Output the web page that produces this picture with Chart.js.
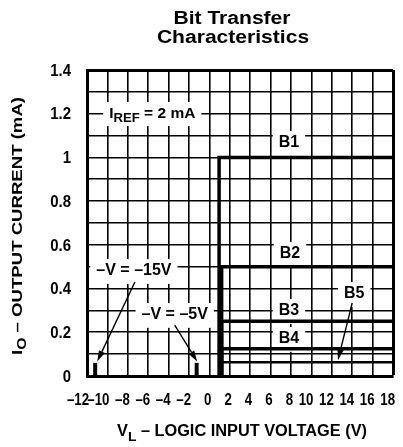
<!DOCTYPE html>
<html>
<head>
<meta charset="utf-8">
<script src="https://cdn.jsdelivr.net/npm/chart.js@4.4.1/dist/chart.umd.min.js"></script>
<style>
html, body { margin: 0; padding: 0; background: #fff; }
#wrap { width: 403px; height: 447px; }
</style>
</head>
<body>
<div id="wrap"><canvas id="chart" width="403" height="447"></canvas></div>
<script>
// values (I_REF = 2 mA)
const bitNames    = ['B1', 'B2', 'B3', 'B4', 'B5'];
const bitCurrents = [1.0, 0.5, 0.25, 0.125, 0.0625];   // mA
const bitSwitchOn = [0.95, 1.2, 1.2, 1.2, 1.2];         // V_L where the bit turns on
const bitEnd      = [18, 18, 18, 18, 18];

const supplyNames      = ['–V = –15V', '–V = –5V'];
const supplyThresholds = [-11.2, -1.25];                // V_L
const supplyMarkTop    = [0.06, 0.06];                  // mA

const X_MIN = -12, X_MAX = 18, X_STEP = 2;
const Y_MIN = 0, Y_MAX = 1.4, Y_STEP = 0.1;

const FONT = '"Liberation Sans", Arial, Helvetica, sans-serif';

// where the callouts sit (data units)
const notes = {
    iref: { x: -5.6, y: 1.2 },
    B1: { x: 7.8, y: 1.066 },
    B2: { x: 7.9, y: 0.558 },
    B3: { x: 7.8, y: 0.297 },
    B4: { x: 7.8, y: 0.169 },
    B5: { x: 14.2, y: 0.375 },
    v15: { x: -7.4, y: 0.48 },
    v5: { x: -3.4, y: 0.279 }
};
const arrows = [
    { from: { x: -7.3, y: 0.43 }, to: { x: -11.0, y: 0.066 } },
    { from: { x: -3.4, y: 0.233 }, to: { x: -1.2, y: 0.066 } },
    { from: { x: 14.0, y: 0.334 }, to: { x: 12.6, y: 0.072 } }
];

const datasets = [];
bitNames.forEach((name, i) => {
    datasets.push({
        label: name,
        data: [
            { x: bitSwitchOn[i], y: 0 },
            { x: bitSwitchOn[i], y: bitCurrents[i] },
            { x: bitEnd[i], y: bitCurrents[i] }
        ],
        showLine: true,
        borderColor: '#000',
        borderWidth: i === 4 ? 2.5 : 3.5,
        pointRadius: 0,
        tension: 0
    });
});
supplyNames.forEach((name, i) => {
    datasets.push({
        label: name,
        data: [
            { x: supplyThresholds[i], y: 0 },
            { x: supplyThresholds[i], y: supplyMarkTop[i] }
        ],
        showLine: true,
        borderColor: '#000',
        borderWidth: 4,
        borderCapStyle: 'butt',
        pointRadius: 0
    });
});

function fmtNum(v) {
    const r = Math.round(v * 10) / 10;
    return r < 0 ? '–' + (-r) : String(r);
}

function setFont(ctx, size) {
    ctx.font = 'bold ' + size + 'px ' + FONT;
}

// width of text made of pieces (some subscripted)
function richWidth(ctx, parts, size) {
    let w = 0;
    parts.forEach(p => {
        setFont(ctx, p.sub ? size * 0.85 : size);
        w += ctx.measureText(p.t).width;
    });
    return w;
}

// draws rich text centred at (x, y); sx squeezes/stretches it horizontally
function drawRich(ctx, parts, x, y, size, sx) {
    const w = richWidth(ctx, parts, size) * sx;
    ctx.save();
    ctx.translate(x - w / 2, y);
    ctx.scale(sx, 1);
    ctx.textAlign = 'left';
    ctx.textBaseline = 'middle';
    let cx = 0;
    parts.forEach(p => {
        setFont(ctx, p.sub ? size * 0.85 : size);
        ctx.fillText(p.t, cx, p.sub ? size * 0.3 : 0);
        cx += ctx.measureText(p.t).width;
    });
    ctx.restore();
}

function textBox(ctx, parts, px, py, size) {
    const w = richWidth(ctx, parts, size);
    ctx.fillStyle = '#fff';
    ctx.fillRect(px - w / 2 - 6, py - size * 0.75, w + 12, size * 1.55);
    ctx.fillStyle = '#000';
    drawRich(ctx, parts, px, py, size, 1);
}

const notesPlugin = {
    id: 'notes',
    beforeDatasetsDraw(chart) {
        const ctx = chart.ctx, xs = chart.scales.x, ys = chart.scales.y;
        const at = n => [xs.getPixelForValue(n.x), ys.getPixelForValue(n.y)];
        ctx.save();
        let p = at(notes.iref);
        textBox(ctx, [{ t: 'I' }, { t: 'REF', sub: true }, { t: ' = 2 mA' }], p[0], p[1], 15.5);
        bitNames.forEach(name => {
            p = at(notes[name]);
            textBox(ctx, [{ t: name }], p[0], p[1], 16);
        });
        p = at(notes.v15);
        textBox(ctx, [{ t: supplyNames[0] }], p[0], p[1], 16);
        p = at(notes.v5);
        textBox(ctx, [{ t: supplyNames[1] }], p[0], p[1], 16);
        ctx.restore();
    },
    afterDatasetsDraw(chart) {
        const ctx = chart.ctx, xs = chart.scales.x, ys = chart.scales.y;
        ctx.save();
        ctx.strokeStyle = '#000';
        ctx.fillStyle = '#000';
        ctx.lineWidth = 1.4;
        arrows.forEach(a => {
            const x1 = xs.getPixelForValue(a.from.x), y1 = ys.getPixelForValue(a.from.y);
            const x2 = xs.getPixelForValue(a.to.x), y2 = ys.getPixelForValue(a.to.y);
            const ang = Math.atan2(y2 - y1, x2 - x1);
            const len = 11, half = 3.2;
            const bx = x2 - len * Math.cos(ang), by = y2 - len * Math.sin(ang);
            ctx.beginPath();
            ctx.moveTo(x1, y1);
            ctx.lineTo(bx, by);
            ctx.stroke();
            ctx.beginPath();
            ctx.moveTo(x2, y2);
            ctx.lineTo(bx + half * Math.sin(ang), by - half * Math.cos(ang));
            ctx.lineTo(bx - half * Math.sin(ang), by + half * Math.cos(ang));
            ctx.closePath();
            ctx.fill();
        });
        ctx.restore();
    },
    afterDraw(chart) {
        const ctx = chart.ctx, xs = chart.scales.x, ys = chart.scales.y;
        const area = chart.chartArea;
        ctx.save();
        ctx.fillStyle = '#000';

        // tick labels, squeezed like the datasheet's condensed face
        xs.ticks.forEach(t => {
            const s = fmtNum(t.value);
            setFont(ctx, 17);
            const w = ctx.measureText(s).width * 0.78;
            drawRich(ctx, [{ t: s }], xs.getPixelForValue(t.value) + 2 - w / 2, area.bottom + 24, 17, 0.78);
        });
        ys.ticks.forEach((t, i) => {
            if (i % 2) return;
            const s = fmtNum(t.value);
            setFont(ctx, 17);
            const w = ctx.measureText(s).width * 0.88;
            drawRich(ctx, [{ t: s }], area.left - 16 - w / 2, ys.getPixelForValue(t.value) + 1, 17, 0.88);
        });

        // title
        drawRich(ctx, [{ t: 'Bit Transfer' }], 232, 19, 18, 1.17);
        drawRich(ctx, [{ t: 'Characteristics' }], 233, 38, 18, 1.17);

        // axis titles, fitted to the length they have on the sheet
        const xt = [{ t: 'V' }, { t: 'L', sub: true }, { t: ' – LOGIC INPUT VOLTAGE (V)' }];
        drawRich(ctx, xt, 242, 432, 16, 250 / richWidth(ctx, xt, 16));

        const yt = [{ t: 'I' }, { t: 'O', sub: true }, { t: ' – OUTPUT CURRENT (mA)' }];
        ctx.translate(18, 226);
        ctx.rotate(-Math.PI / 2);
        drawRich(ctx, yt, 0, 0, 15, 258 / richWidth(ctx, yt, 15));
        ctx.restore();
    }
};

new Chart(document.getElementById('chart'), {
    type: 'scatter',
    data: { datasets },
    options: {
        responsive: false,
        animation: false,
        layout: { padding: { left: 0, right: 10, top: 70, bottom: 0 } },
        plugins: { legend: { display: false }, tooltip: { enabled: false } },
        scales: {
            x: {
                type: 'linear',
                min: X_MIN, max: X_MAX,
                afterFit: s => { s.height = 71; },
                ticks: { stepSize: X_STEP, autoSkip: false, display: false },
                grid: {
                    color: '#000',
                    drawTicks: false,
                    lineWidth: c => (c.tick && c.tick.value === X_MAX ? 3 : 1.6)
                },
                border: { display: true, color: '#000', width: 3 }
            },
            y: {
                type: 'linear',
                min: Y_MIN, max: Y_MAX,
                afterFit: s => { s.width = 87; },
                ticks: { stepSize: Y_STEP, autoSkip: false, display: false },
                grid: {
                    color: '#000',
                    drawTicks: false,
                    lineWidth: c => (c.tick && Math.abs(c.tick.value - Y_MAX) < 1e-6 ? 3 : 1.6)
                },
                border: { display: true, color: '#000', width: 3 }
            }
        }
    },
    plugins: [notesPlugin]
});
</script>
</body>
</html>
